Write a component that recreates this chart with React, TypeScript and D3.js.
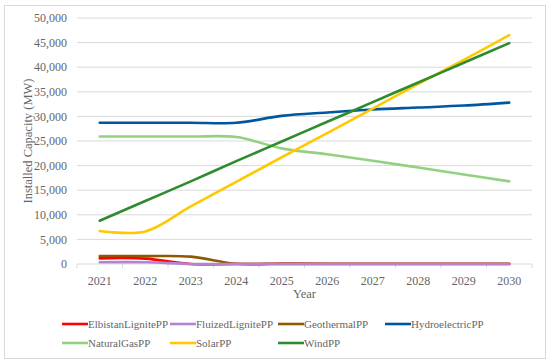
import React from 'react';
import * as d3 from 'd3';

const years = ['2021', '2022', '2023', '2024', '2025', '2026', '2027', '2028', '2029', '2030'];

const elbistan = [1150, 1100, 0, 0, 0, 0, 0, 0, 0, 0];
const fluized = [350, 350, 0, 0, 0, 0, 0, 0, 0, 0];
const geothermal = [1600, 1600, 1500, 50, 100, 50, 50, 50, 50, 50];
const hydro = [28700, 28700, 28700, 28700, 30100, 30800, 31400, 31800, 32200, 32800];
const naturalGas = [25900, 25900, 25900, 25800, 23500, 22300, 21000, 19600, 18200, 16800];
const solar = [6700, 6600, 11700, 16700, 21700, 26600, 31600, 36600, 41500, 46500];
const wind = [8800, 12800, 16800, 20900, 24900, 28900, 32900, 36900, 40900, 44900];

const yTicks = [0, 5000, 10000, 15000, 20000, 25000, 30000, 35000, 40000, 45000, 50000];

const series = [
  { name: 'ElbistanLignitePP', values: elbistan, color: '#ff0000' },
  { name: 'FluizedLignitePP', values: fluized, color: '#b583d3' },
  { name: 'GeothermalPP', values: geothermal, color: '#8c5a00' },
  { name: 'HydroelectricPP', values: hydro, color: '#00579e' },
  { name: 'NaturalGasPP', values: naturalGas, color: '#92d17f' },
  { name: 'SolarPP', values: solar, color: '#ffc800' },
  { name: 'WindPP', values: wind, color: '#2e8b2e' },
];

// legend layout (row, col) positions
const legendX = [62, 170, 278, 385];
const legendY = [324, 343];

const textStyle = { fontFamily: "'Liberation Serif', 'Times New Roman', Times, serif" };
const textColor = '#666666';

export default function App() {
  const left = 77;
  const right = 532;
  const top = 18;
  const bottom = 264;

  const x = d3.scaleBand().domain(years).range([left, right]).padding(0);
  const y = d3.scaleLinear().domain([0, 50000]).range([bottom, top]);
  const cx = (d: string) => (x(d) as number) + x.bandwidth() / 2;

  const line = d3
    .line<number>()
    .x((_, i) => cx(years[i]))
    .y((d) => y(d))
    .curve(d3.curveCatmullRom.alpha(0.5));

  const fmt = d3.format(',');
  const drawOrder = [4, 3, 5, 6, 2, 0, 1];

  return (
    <svg width={550} height={364} style={{ position: 'absolute', left: 0, top: 0 }}>
      <rect x={0} y={0} width={550} height={364} fill="#ffffff" />
      <rect x={4.5} y={5.5} width={541} height={353} fill="none" stroke="#d9d9d9" />

      {yTicks.map((t) => (
        <g key={t}>
          {t > 0 && (
            <line x1={left} x2={right} y1={y(t)} y2={y(t)} stroke="#d9d9d9" strokeWidth={1} />
          )}
          <text
            x={67}
            y={y(t)}
            dy="0.35em"
            textAnchor="end"
            style={textStyle}
            fontSize={12}
            fill={textColor}
          >
            {fmt(t)}
          </text>
        </g>
      ))}

      <line x1={left} x2={right} y1={bottom} y2={bottom} stroke="#d9d9d9" strokeWidth={1} />
      {years.concat(['end']).map((d, i) => {
        const xx = left + i * x.bandwidth();
        return <line key={d} x1={xx} x2={xx} y1={bottom} y2={bottom + 4} stroke="#d9d9d9" />;
      })}
      {years.map((d) => (
        <text
          key={d}
          x={cx(d)}
          y={bottom + 17}
          dy="0.35em"
          textAnchor="middle"
          style={textStyle}
          fontSize={12}
          fill={textColor}
        >
          {d}
        </text>
      ))}

      <text
        x={(left + right) / 2}
        y={294}
        dy="0.35em"
        textAnchor="middle"
        style={textStyle}
        fontSize={12.5}
        fill={textColor}
      >
        Year
      </text>
      <text
        transform={`translate(28,${(top + bottom) / 2}) rotate(-90)`}
        dy="0.35em"
        textAnchor="middle"
        style={textStyle}
        fontSize={12.5}
        fill={textColor}
      >
        Installed Capacity (MW)
      </text>

      {drawOrder.map((i) => {
        const s = series[i];
        return (
          <path
            key={s.name}
            d={line(s.values) || ''}
            fill="none"
            stroke={s.color}
            strokeWidth={2.6}
            strokeLinecap="round"
          />
        );
      })}

      {series.map((s, i) => {
        const lx = legendX[i % 4];
        const ly = legendY[Math.floor(i / 4)];
        return (
          <g key={s.name}>
            <line x1={lx} x2={lx + 26} y1={ly} y2={ly} stroke={s.color} strokeWidth={2.6} />
            <text
              x={lx + 26}
              y={ly}
              dy="0.35em"
              style={textStyle}
              fontSize={11}
              fill={textColor}
            >
              {s.name}
            </text>
          </g>
        );
      })}
    </svg>
  );
}
